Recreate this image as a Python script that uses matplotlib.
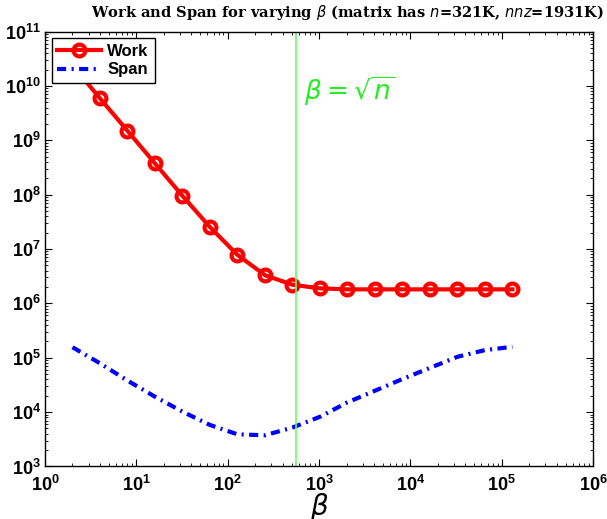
import matplotlib
matplotlib.use("Agg")
import matplotlib.pyplot as plt
import numpy as np
from matplotlib.ticker import LogLocator, NullFormatter

# data
beta = [2**k for k in range(1, 18)]
work = [2.4e10, 5.9e9, 1.49e9, 3.75e8, 9.5e7, 2.53e7, 7.8e6, 3.3e6, 2.2e6,
        1.89e6, 1.81e6, 1.81e6, 1.81e6, 1.81e6, 1.81e6, 1.81e6, 1.81e6]
span = [1.56e5, 7.9e4, 3.8e4, 1.92e4, 1.02e4, 5.8e3, 3.9e3, 3.75e3, 5.2e3,
        8.2e3, 1.51e4, 2.47e4, 4.06e4, 6.5e4, 1.04e5, 1.38e5, 1.59e5]
n = 321000

fig = plt.figure(figsize=(6.07, 5.19), dpi=100)
ax = fig.add_axes([0.0741, 0.1012, 0.9029, 0.8381])

ax.plot(beta, work, color='red', lw=3, marker='o', markersize=8.5,
        markerfacecolor='none', markeredgewidth=3, label='Work')
ax.plot(beta, span, color='blue', lw=3, linestyle=(0, (2.2, 1.3, 0.5, 1.3)),
        label='Span')
ax.axvline(np.sqrt(n), color='#66ff66', lw=1.2)
ax.text(680, 8e9, r'$\beta = \sqrt{n}$', color='#22ee22', fontsize=19,
        va='center')

ax.set_xscale('log')
ax.set_yscale('log')
ax.set_xlim(1, 1e6)
ax.set_ylim(1e3, 1e11)
ax.xaxis.set_major_locator(LogLocator(base=10, numticks=10))
ax.yaxis.set_major_locator(LogLocator(base=10, numticks=12))
ax.xaxis.set_minor_locator(LogLocator(base=10, subs=np.arange(2, 10), numticks=20))
ax.yaxis.set_minor_locator(LogLocator(base=10, subs=np.arange(2, 10), numticks=20))
ax.xaxis.set_minor_formatter(NullFormatter())
ax.yaxis.set_minor_formatter(NullFormatter())
ax.tick_params(which='both', direction='in', top=True, right=True)
ax.tick_params(which='major', length=5, width=0.8, labelsize=13)
ax.tick_params(which='minor', length=2.5, width=0.6)
for lab in ax.get_xticklabels() + ax.get_yticklabels():
    lab.set_fontweight('bold')
    lab.set_family('Liberation Sans')
ax.tick_params(axis='x', pad=6)
ax.tick_params(axis='y', pad=3)
for s in ax.spines.values():
    s.set_linewidth(1.0)

ax.set_xlabel(r'$\beta$', fontsize=20, labelpad=-3)

leg = ax.legend(loc='upper left', fancybox=False, edgecolor='black',
                prop={'family': 'Liberation Sans', 'weight': 'bold', 'size': 12},
                handlelength=2.6, borderpad=0.35, labelspacing=0.2,
                handletextpad=0.4, borderaxespad=0.4, framealpha=1)
leg.get_frame().set_linewidth(1.0)

fig.text(0.995, 0.975,
         r'Work and Span for varying $\beta$ (matrix has $n$=321K, $nnz$=1931K)',
         ha='right', va='center', fontsize=10.5, family='DejaVu Serif',
         fontweight='bold')

fig.savefig('out.png', dpi=100)
